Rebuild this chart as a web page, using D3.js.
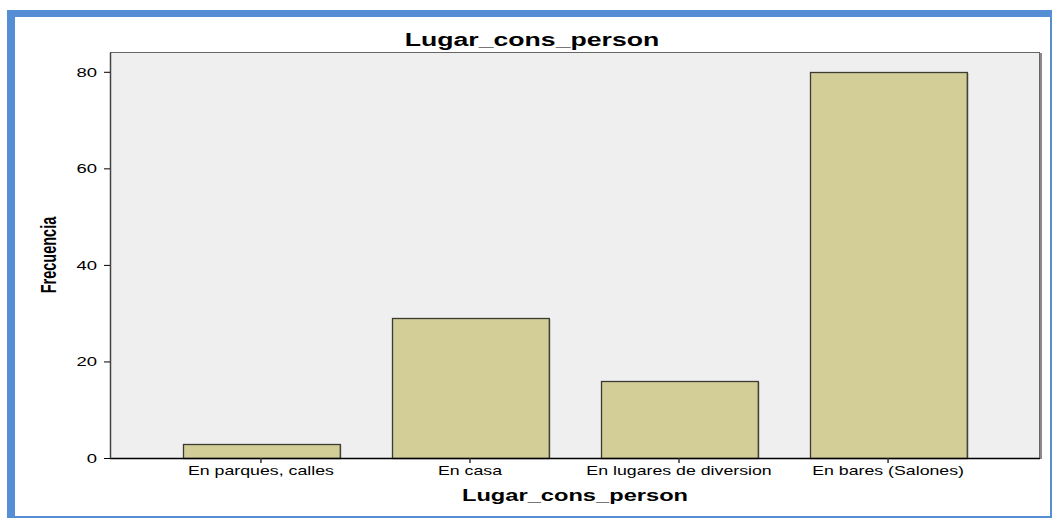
<!DOCTYPE html>
<html>
<head>
<meta charset="utf-8">
<script src="https://cdn.jsdelivr.net/npm/d3@7"></script>
<style>
	body { margin: 0; background: #fff; }
	text { font-family: "Liberation Sans", Arial, sans-serif; fill: #000; }
</style>
</head>
<body>
<div id="bar_chart"></div>
<script>
var categories = ["En parques, calles", "En casa", "En lugares de diversion", "En bares (Salones)"];
var frecuencia = [3, 29, 16, 80];
var y_ticks = [0, 20, 40, 60, 80];
var chart_title = "Lugar_cons_person";
var x_title = "Lugar_cons_person";
var y_title = "Frecuencia";

var width = 1053, height = 519,
	plot = {left: 110, right: 1039, top: 52, bottom: 458},
	stretch = 1.48;

var data = categories.map(function(c, i) { return {text: c, value: frecuencia[i]}; });

var svg = d3.select("#bar_chart")
	.append("svg")
	.attr("width", width)
	.attr("height", height);

// blue frame round the chart
svg.append("rect")
	.attr("x", 7).attr("y", 10)
	.attr("width", 1045).attr("height", 508)
	.style("fill", "#558ed5");
svg.append("rect")
	.attr("x", 15).attr("y", 17)
	.attr("width", 1035).attr("height", 499)
	.style("fill", "#fff");

var x = d3.scaleBand()
	.domain(categories)
	.range([plot.left, plot.right])
	.paddingInner(0.25)
	.paddingOuter(0.347);

var y = d3.scaleLinear()
	.domain([0, 84.1])
	.range([plot.bottom, plot.top]);

// plot background with shadow
svg.append("rect")
	.attr("x", plot.left + 2).attr("y", plot.top + 1)
	.attr("width", plot.right - plot.left + 1).attr("height", plot.bottom - plot.top)
	.style("fill", "#8a8a8a");
svg.append("rect")
	.attr("x", plot.left + 0.5).attr("y", plot.top + 0.5)
	.attr("width", plot.right - plot.left).attr("height", plot.bottom - plot.top)
	.style("fill", "#efefef")
	.style("stroke", "#666")
	.style("stroke-width", 1);

// bars
var bars = svg.selectAll(".bar")
	.data(data)
	.enter().append("g")
	.attr("class", "bar");

bars.append("rect")
	.attr("x", function(d) { return x(d.text) + 2; })
	.attr("y", function(d) { return y(d.value) + 1; })
	.attr("width", x.bandwidth())
	.attr("height", function(d) { return y(0) - y(d.value) - 1; })
	.style("fill", "#9a9a90");

bars.append("rect")
	.attr("x", function(d) { return Math.round(x(d.text)) + 0.5; })
	.attr("y", function(d) { return Math.round(y(d.value)) + 0.5; })
	.attr("width", x.bandwidth())
	.attr("height", function(d) { return y(0) - Math.round(y(d.value)); })
	.style("fill", "#d3ce98")
	.style("stroke", "#3a3a30")
	.style("stroke-width", 1.3);

// axes
var xAxis = d3.axisBottom(x).tickSize(5).tickSizeOuter(0);
var yAxis = d3.axisLeft(y).tickValues(y_ticks).tickSize(6).tickSizeOuter(0);

var gx = svg.append("g")
	.attr("class", "x axis")
	.attr("transform", "translate(0," + plot.bottom + ")")
	.call(xAxis);
gx.select(".domain").attr("d", "M" + plot.left + ",0.5H" + (plot.right + 1)).style("stroke", "#000").style("stroke-width", 1.5);
gx.selectAll(".tick line").style("stroke", "#333").style("stroke-width", 1.5);
gx.selectAll(".tick text")
	.attr("y", 0).attr("dy", 0)
	.attr("transform", "translate(0,17) scale(" + stretch + ",1)")
	.style("font-size", "12px");

var gy = svg.append("g")
	.attr("class", "y axis")
	.attr("transform", "translate(" + plot.left + ",0)")
	.call(yAxis);
gy.select(".domain").style("stroke", "#444").style("stroke-width", 1.5);
gy.selectAll(".tick line").style("stroke", "#000");
gy.selectAll(".tick text")
	.attr("x", 0).attr("dy", 0)
	.attr("transform", "translate(-13,4.5) scale(" + stretch + ",1)")
	.style("font-size", "12.5px");

// titles
svg.append("text")
	.attr("transform", "translate(532,46) scale(" + stretch + ",1)")
	.attr("text-anchor", "middle")
	.style("font-size", "18px")
	.style("font-weight", "bold")
	.text(chart_title);

svg.append("text")
	.attr("transform", "translate(575,501) scale(" + stretch + ",1)")
	.attr("text-anchor", "middle")
	.style("font-size", "16px")
	.style("font-weight", "bold")
	.text(x_title);

svg.append("text")
	.attr("transform", "translate(56,255) scale(" + stretch + ",1) rotate(-90)")
	.attr("text-anchor", "middle")
	.style("font-size", "14.5px")
	.style("font-weight", "bold")
	.text(y_title);
</script>
</body>
</html>
